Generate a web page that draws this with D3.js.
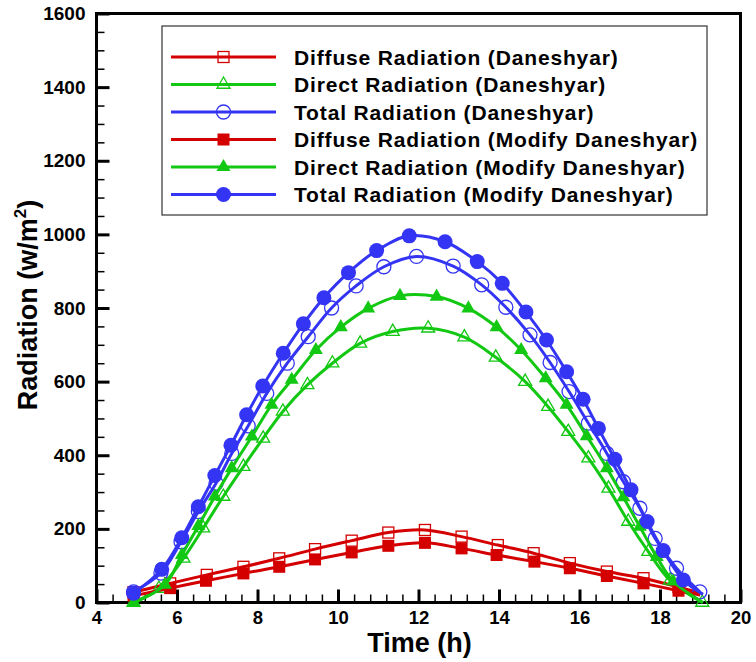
<!DOCTYPE html>
<html>
<head>
<meta charset="utf-8">
<script src="https://cdn.jsdelivr.net/npm/d3@7"></script>
<style>
  html, body { margin: 0; padding: 0; background: #fff; }
  svg { display: block; font-family: "Liberation Sans", Arial, sans-serif; font-weight: bold; }
</style>
</head>
<body>
<svg id="chart" width="756" height="662"></svg>
<script>
// Hourly radiation curves: Daneshyar model vs. modified Daneshyar model
const seriesNames = [
  "Diffuse Radiation (Daneshyar)",
  "Direct Radiation (Daneshyar)",
  "Total Radiation (Daneshyar)",
  "Diffuse Radiation (Modify Daneshyar)",
  "Direct Radiation (Modify Daneshyar)",
  "Total Radiation (Modify Daneshyar)"
];

// Time of day (h) and radiation (W/m²) at each plotted point
const diffuseDanT = [4.92, 5.83, 6.74, 7.65, 8.54, 9.43, 10.34, 11.25, 12.16, 13.07, 13.97, 14.86, 15.76, 16.68, 17.59, 18.46, 19.0];
const diffuseDanV = [28, 52, 75, 97, 120, 145, 168, 190, 197, 179, 156, 134, 107, 84, 66, 42, 25];

const directDanT = [4.92, 5.55, 6.16, 6.65, 7.15, 7.65, 8.14, 8.63, 9.24, 9.86, 10.55, 11.36, 12.24, 13.14, 13.92, 14.65, 15.22, 15.72, 16.22, 16.72, 17.21, 17.71, 18.25, 19.05];
const directDanV = [0, 38, 120, 202, 288, 369, 446, 519, 591, 650, 704, 736, 745, 721, 666, 600, 532, 464, 392, 310, 220, 138, 60, 0];

const totalDanT = [4.92, 5.6, 6.1, 6.53, 6.97, 7.36, 7.77, 8.23, 8.74, 9.26, 9.84, 10.45, 11.14, 11.95, 12.86, 13.57, 14.17, 14.77, 15.27, 15.74, 16.22, 16.68, 17.09, 17.5, 17.88, 18.41, 18.99];
const totalDanV = [29, 80, 165, 247, 324, 405, 480, 568, 650, 722, 800, 860, 912, 940, 914, 863, 802, 727, 652, 573, 487, 405, 328, 256, 174, 93, 29];

const diffuseModT = [4.92, 5.83, 6.72, 7.65, 8.54, 9.43, 10.34, 11.25, 12.16, 13.07, 13.94, 14.88, 15.76, 16.68, 17.59, 18.46, 19.0];
const diffuseModV = [18, 39, 59, 79, 97, 117, 136, 154, 162, 147, 129, 111, 93, 72, 52, 32, 20];

const directModT = [4.92, 5.70, 6.12, 6.53, 6.94, 7.36, 7.86, 8.35, 8.85, 9.45, 10.07, 10.75, 11.54, 12.45, 13.24, 13.94, 14.55, 15.16, 15.68, 16.18, 16.68, 17.09, 17.5, 17.92, 18.33, 19.07];
const directModV = [0, 48, 129, 208, 288, 365, 451, 537, 605, 686, 748, 799, 833, 831, 799, 748, 686, 609, 537, 452, 365, 286, 206, 124, 57, 0];

const totalModT = [4.92, 5.62, 6.12, 6.53, 6.94, 7.34, 7.73, 8.13, 8.64, 9.14, 9.65, 10.26, 10.96, 11.77, 12.66, 13.46, 14.08, 14.67, 15.18, 15.68, 16.09, 16.47, 16.88, 17.28, 17.68, 18.08, 18.58, 19.07];
const totalModV = [25, 90, 176, 260, 345, 427, 510, 588, 677, 757, 828, 896, 956, 996, 980, 926, 867, 789, 713, 627, 552, 473, 389, 306, 220, 141, 61, 22];

// Axis ticks
const xMajorTicks = [4, 6, 8, 10, 12, 14, 16, 18, 20];
const yMajorTicks = [0, 200, 400, 600, 800, 1000, 1200, 1400, 1600];

const RED = "#d40000", GREEN = "#12c812", BLUE = "#3434f4";

// symbol: marker shape; filled: solid or outlined; tail: last point carries no marker
const series = [
  { name: seriesNames[0], t: diffuseDanT, v: diffuseDanV, color: RED,   symbol: "square",   filled: false, tail: true },
  { name: seriesNames[1], t: directDanT,  v: directDanV,  color: GREEN, symbol: "triangle", filled: false, tail: false },
  { name: seriesNames[2], t: totalDanT,   v: totalDanV,   color: BLUE,  symbol: "circle",   filled: false, tail: false },
  { name: seriesNames[3], t: diffuseModT, v: diffuseModV, color: RED,   symbol: "square",   filled: true,  tail: true },
  { name: seriesNames[4], t: directModT,  v: directModV,  color: GREEN, symbol: "triangle", filled: true,  tail: true },
  { name: seriesNames[5], t: totalModT,   v: totalModV,   color: BLUE,  symbol: "circle",   filled: true,  tail: true }
];

const plot = { left: 96.5, right: 740.5, top: 13.5, bottom: 602.5 };
const x = d3.scaleLinear().domain([4, 20]).range([plot.left, plot.right]);
const y = d3.scaleLinear().domain([0, 1600]).range([plot.bottom, plot.top]);

const svg = d3.select("#chart");

// Minor ticks
const xMinor = d3.range(4, 20.001, 0.4).filter(v => Math.abs(v / 2 - Math.round(v / 2)) > 1e-6);
const yMinor = d3.range(0, 1600.001, 50).filter(v => v % 200 !== 0);

const xAxisMinor = svg.append("g")
  .attr("transform", `translate(0,${plot.bottom})`)
  .call(d3.axisBottom(x).tickValues(xMinor).tickSize(-8).tickFormat(""));
const yAxisMinor = svg.append("g")
  .attr("transform", `translate(${plot.left},0)`)
  .call(d3.axisLeft(y).tickValues(yMinor).tickSize(-8).tickFormat(""));
[xAxisMinor, yAxisMinor].forEach(g => {
  g.select(".domain").remove();
  g.selectAll(".tick line").attr("stroke", "#000").attr("stroke-width", 1.5);
});

const xAxis = svg.append("g")
  .attr("transform", `translate(0,${plot.bottom})`)
  .call(d3.axisBottom(x).tickValues(xMajorTicks).tickSize(-13).tickPadding(8).tickFormat(d3.format("d")));
const yAxis = svg.append("g")
  .attr("transform", `translate(${plot.left},0)`)
  .call(d3.axisLeft(y).tickValues(yMajorTicks).tickSize(-13).tickPadding(11).tickFormat(d3.format("d")));
[xAxis, yAxis].forEach(g => {
  g.select(".domain").remove();
  g.selectAll(".tick line").attr("stroke", "#000").attr("stroke-width", 3);
  g.selectAll(".tick text")
    .attr("fill", "#000")
    .style("font-family", '"Liberation Sans", Arial, sans-serif')
    .style("font-weight", "bold");
});
xAxis.selectAll(".tick text").style("font-size", "18.5px");
yAxis.selectAll(".tick text").style("font-size", "19px");

// Plot frame
svg.append("rect")
  .attr("x", plot.left).attr("y", plot.top)
  .attr("width", plot.right - plot.left).attr("height", plot.bottom - plot.top)
  .attr("fill", "none").attr("stroke", "#000").attr("stroke-width", 3);

// Marker drawing
function drawMarker(g, s, cx, cy) {
  const stroke = s.filled ? "none" : s.color;
  const fill = s.filled ? s.color : "none";
  const sw = s.filled ? 0 : 1.3;
  if (s.symbol === "circle") {
    g.append("circle").attr("cx", cx).attr("cy", cy).attr("r", s.filled ? 7.5 : 7)
      .attr("fill", fill).attr("stroke", stroke).attr("stroke-width", sw);
  } else if (s.symbol === "square") {
    const h = s.filled ? 6 : 5.5;
    g.append("rect").attr("x", cx - h).attr("y", cy - h).attr("width", 2 * h).attr("height", 2 * h)
      .attr("fill", fill).attr("stroke", stroke).attr("stroke-width", sw);
  } else {
    const side = s.filled ? 14 : 13;
    const hgt = side * Math.sqrt(3) / 2;
    const pts = [[cx, cy - 2 * hgt / 3], [cx + side / 2, cy + hgt / 3], [cx - side / 2, cy + hgt / 3]];
    g.append("path").attr("d", "M" + pts.map(p => p.join(",")).join("L") + "Z")
      .attr("fill", fill).attr("stroke", stroke).attr("stroke-width", sw);
  }
}

const line = d3.line()
  .x(d => x(d[0]))
  .y(d => y(d[1]))
  .curve(d3.curveCatmullRom.alpha(0.5));

const plotArea = svg.append("g");
series.forEach(s => {
  const pts = s.t.map((t, i) => [t, s.v[i]]);
  const g = plotArea.append("g");
  g.append("path").attr("d", line(pts))
    .attr("fill", "none").attr("stroke", s.color).attr("stroke-width", 3).attr("stroke-linejoin", "round");
  const marked = s.tail ? pts.slice(0, -1) : pts;
  marked.forEach(p => drawMarker(g, s, x(p[0]), y(p[1])));
});

// Legend
const legend = svg.append("g");
legend.append("rect")
  .attr("x", 162).attr("y", 26).attr("width", 545).attr("height", 189)
  .attr("fill", "#fff").attr("stroke", "#333").attr("stroke-width", 1.2);
series.forEach((s, i) => {
  const ry = 57 + i * 27.5;
  legend.append("line").attr("x1", 171).attr("x2", 276).attr("y1", ry).attr("y2", ry)
    .attr("stroke", s.color).attr("stroke-width", 3);
  drawMarker(legend, s, 223.5, ry);
  legend.append("text").attr("x", 294).attr("y", ry + 7.8)
    .attr("font-size", 21).attr("letter-spacing", 0.85).attr("fill", "#000")
    .text(s.name);
});

// Axis titles
svg.append("text")
  .attr("x", 419.5).attr("y", 652)
  .attr("text-anchor", "middle").attr("font-size", 27).attr("fill", "#000")
  .text("Time (h)");

const yTitle = svg.append("text")
  .attr("transform", "translate(36.5,305) rotate(-90)")
  .attr("text-anchor", "middle").attr("font-size", 27).attr("fill", "#000");
yTitle.append("tspan").text("Radiation (w/m");
yTitle.append("tspan").attr("font-size", 17).attr("dy", -11).text("2");
yTitle.append("tspan").attr("dy", 11).text(")");
</script>
</body>
</html>
